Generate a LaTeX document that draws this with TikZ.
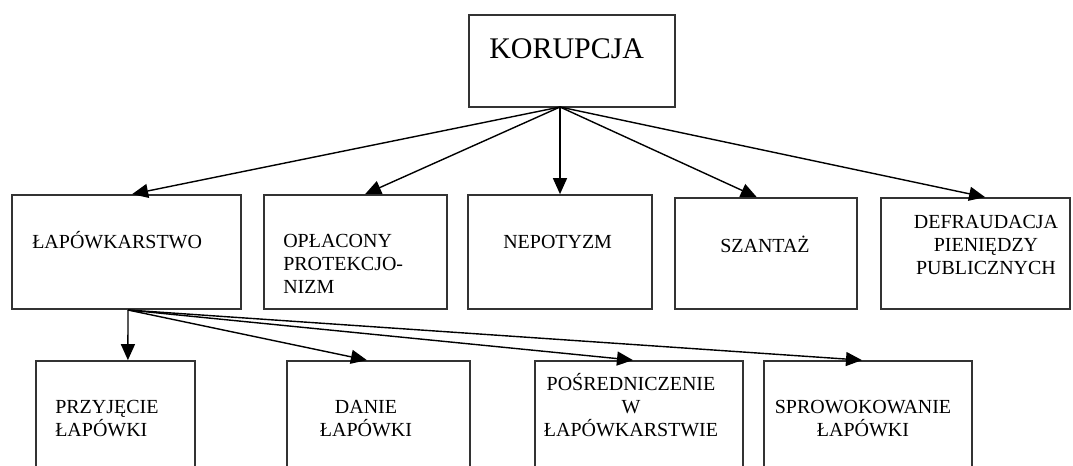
\documentclass[tikz,border=0pt]{standalone}
\usepackage{fontspec}
\setmainfont{Liberation Serif}
\usetikzlibrary{arrows.meta,fit}
\tikzset{
  bx/.style={rectangle,draw=black!80,line width=1.2pt,inner sep=0pt},
  tx/.style={inner sep=0pt,font=\fontsize{14.2}{16.2}\selectfont},
  txl/.style={tx,align=left,anchor=base west},
  txc/.style={tx,align=center,anchor=base},
  ttl/.style={inner sep=0pt,font=\fontsize{21.3}{24}\selectfont,anchor=base west},
  arr/.style={-{Triangle[length=4mm,width=3.5mm]},line width=1pt,draw=black},
}
\begin{document}
\begin{tikzpicture}[x=0.025cm,y=-0.025cm]
\useasboundingbox (0,0) rectangle (1073,466);
\clip (0,0) rectangle (1073,466);
% ---------- top: korupcja ----------
\node[bx,fit={(469,15) (675,107)}] (kor) {};
\node[ttl] (korT) at (489,59) {KORUPCJA};
\coordinate (kout) at (560,107);
% ---------- row 1: forms ----------
% (base of a multi-line node is its last line)
\node[bx,fit={(12,195) (241,309)}]  (lap) {};
\node[bx,fit={(264,195) (447,309)}] (opl) {};
\node[bx,fit={(468,195) (652,309)}] (nep) {};
\node[bx,fit={(675,198) (857,309)}] (sza) {};
\node[bx,fit={(881,198) (1070,309)}] (def) {};
\node[txl] (lapT) at (32,248) {ŁAPÓWKARSTWO};
\node[txl] (oplT) at (283,293) {OPŁACONY\\PROTEKCJO-\\NIZM};
\node[txl] (nepT) at (503,248) {NEPOTYZM};
\node[txl] (szaT) at (720,252) {SZANTAŻ};
\node[txc] (defT) at (986,274) {DEFRAUDACJA\\PIENIĘDZY\\PUBLICZNYCH};
\draw[arr] (kout) -- ([xshift=1.4mm]lap.north);
\draw[arr] (kout) -- ([xshift=2.4mm]opl.north);
\draw[arr] (kout) -- (nep.north);
\draw[arr] (kout) -- ([xshift=-2.3mm]sza.north);
\draw[arr] (kout) -- ([xshift=2.4mm]def.north);
% ---------- row 2: kinds of bribery ----------
\coordinate (lout) at (128,310);
\node[bx,fit={(36,361) (195,490)}]  (prz) {};
\node[bx,fit={(287,361) (470,490)}] (dan) {};
\node[bx,fit={(535,361) (743,490)}] (pos) {};
\node[bx,fit={(764,361) (972,490)}] (spr) {};
\node[txl] (przT) at (55,436) {PRZYJĘCIE\\ŁAPÓWKI};
\node[txc] (danT) at (366,436) {DANIE\\ŁAPÓWKI};
\node[txc] (posT) at (631,436) {POŚREDNICZENIE\\W\\ŁAPÓWKARSTWIE};
\node[txc] (sprT) at (863,436) {SPROWOKOWANIE\\ŁAPÓWKI};
\draw[arr] (lout) -- ([xshift=3.1mm]prz.north);
\draw[arr] (lout) -- ([xshift=-2.9mm]dan.north);
\draw[arr] (lout) -- ([xshift=-1.5mm]pos.north);
\draw[arr] (lout) -- ([xshift=-1.5mm]spr.north);
\end{tikzpicture}
\end{document}
